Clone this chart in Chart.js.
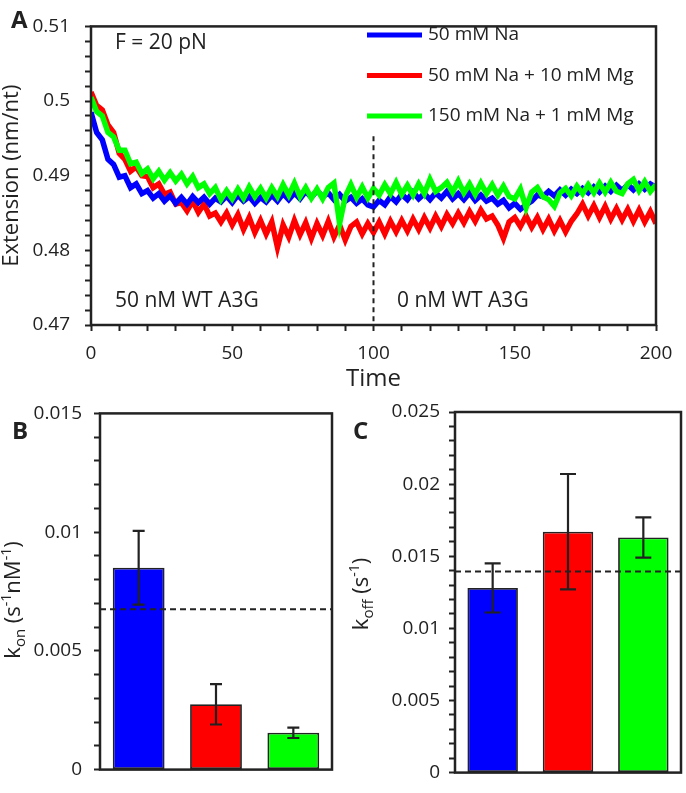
<!DOCTYPE html>
<html>
<head>
<meta charset="utf-8">
<script src="https://cdn.jsdelivr.net/npm/chart.js@4.4.1/dist/chart.umd.min.js"></script>
<style>
  body { margin: 0; background: #fff; }
  #wrap { position: relative; width: 686px; height: 793px; background: #fff; }
  canvas { position: absolute; }
</style>
</head>
<body>
<div id="wrap">
  <canvas id="chartA" width="686" height="400" style="left:0;top:0"></canvas>
  <canvas id="chartB" width="343" height="403" style="left:0;top:390px"></canvas>
  <canvas id="chartC" width="343" height="403" style="left:343px;top:390px"></canvas>
</div>
<script>
// ---- panel A: extension vs time (sampled every 2 s) ----
const time = Array.from({ length: 101 }, (_, i) => i * 2);

const naOnly = [
  0.4985, 0.4958, 0.4948, 0.4922, 0.4915, 0.4898, 0.4900, 0.4884, 0.4889, 0.4876,
  0.4880, 0.4870, 0.4876, 0.4866, 0.4873, 0.4863, 0.4871, 0.4862, 0.4872, 0.4864,
  0.4871, 0.4862, 0.4870, 0.4865, 0.4873, 0.4864, 0.4874, 0.4866, 0.4872, 0.4863,
  0.4871, 0.4865, 0.4874, 0.4866, 0.4876, 0.4868, 0.4877, 0.4869, 0.4879, 0.4871,
  0.4880, 0.4872, 0.4877, 0.4868, 0.4875, 0.4866, 0.4871, 0.4863, 0.4869, 0.4861,
  0.4858, 0.4867, 0.4861, 0.4872, 0.4865, 0.4875, 0.4868, 0.4878, 0.4869, 0.4876,
  0.4868, 0.4877, 0.4870, 0.4879, 0.4869, 0.4876, 0.4868, 0.4877, 0.4867, 0.4874,
  0.4866, 0.4870, 0.4862, 0.4867, 0.4857, 0.4863, 0.4855, 0.4861, 0.4866, 0.4874,
  0.4872, 0.4879, 0.4873, 0.4881, 0.4874, 0.4882, 0.4876, 0.4883, 0.4877, 0.4885,
  0.4878, 0.4886, 0.4879, 0.4887, 0.4880, 0.4888, 0.4881, 0.4889, 0.4882, 0.4889,
  0.4884
];
const naMg10 = [
  0.5012, 0.4994, 0.4988, 0.4968, 0.4958, 0.4930, 0.4922, 0.4906, 0.4912, 0.4900,
  0.4899, 0.4884, 0.4889, 0.4875, 0.4878, 0.4862, 0.4864, 0.4853, 0.4866, 0.4851,
  0.4862, 0.4846, 0.4850, 0.4838, 0.4850, 0.4834, 0.4848, 0.4828, 0.4844, 0.4824,
  0.4840, 0.4822, 0.4838, 0.4804, 0.4834, 0.4818, 0.4840, 0.4821, 0.4837, 0.4816,
  0.4836, 0.4820, 0.4839, 0.4818, 0.4834, 0.4814, 0.4832, 0.4838, 0.4822, 0.4836,
  0.4824, 0.4838, 0.4822, 0.4839, 0.4825, 0.4840, 0.4826, 0.4842, 0.4828, 0.4844,
  0.4830, 0.4846, 0.4832, 0.4848, 0.4836, 0.4850, 0.4837, 0.4852, 0.4839, 0.4854,
  0.4842, 0.4846, 0.4834, 0.4816, 0.4838, 0.4844, 0.4832, 0.4846, 0.4831, 0.4844,
  0.4828, 0.4842, 0.4826, 0.4840, 0.4825, 0.4839, 0.4849, 0.4862, 0.4846, 0.4860,
  0.4844, 0.4859, 0.4842, 0.4856, 0.4841, 0.4855, 0.4839, 0.4854, 0.4838, 0.4852,
  0.4836
];
const na150Mg1 = [
  0.5005, 0.4986, 0.4980, 0.4958, 0.4952, 0.4934, 0.4934, 0.4916, 0.4918, 0.4903,
  0.4909, 0.4896, 0.4906, 0.4894, 0.4904, 0.4893, 0.4902, 0.4889, 0.4899, 0.4884,
  0.4889, 0.4876, 0.4884, 0.4868, 0.4880, 0.4869, 0.4882, 0.4870, 0.4885, 0.4872,
  0.4883, 0.4870, 0.4884, 0.4872, 0.4888, 0.4874, 0.4890, 0.4872, 0.4884, 0.4870,
  0.4882, 0.4869, 0.4884, 0.4890, 0.4836, 0.4872, 0.4888, 0.4871, 0.4885, 0.4870,
  0.4883, 0.4874, 0.4888, 0.4876, 0.4891, 0.4875, 0.4887, 0.4874, 0.4889, 0.4876,
  0.4895, 0.4879, 0.4884, 0.4891, 0.4878, 0.4893, 0.4877, 0.4889, 0.4875, 0.4890,
  0.4876, 0.4888, 0.4874, 0.4886, 0.4872, 0.4869, 0.4882, 0.4857, 0.4878, 0.4884,
  0.4872, 0.4868, 0.4859, 0.4877, 0.4883, 0.4873, 0.4886, 0.4876, 0.4888, 0.4877,
  0.4890, 0.4878, 0.4891, 0.4879, 0.4876, 0.4889, 0.4895, 0.4880, 0.4892, 0.4879,
  0.4888
];
const seriesLabels = ['50 mM Na', '50 mM Na + 10 mM Mg', '150 mM Na + 1 mM Mg'];
const seriesColors = ['#0000ff', '#ff0000', '#00ff00'];
const switchTime = 100;      // A3G removed
const switchLineTop = 0.4953;

// ---- panels B and C: rates ----
const kon = [0.0085, 0.00275, 0.00155];
const konErr = [0.00155, 0.00085, 0.00022];
const konMean = 0.00675;
const koff = [0.0128, 0.0167, 0.0163];
const koffErr = [0.0017, 0.0040, 0.0014];
const koffMean = 0.01395;

const FONT = '"Open Sans", "DejaVu Sans", sans-serif';
const INK = '#222';

function drawBox(ctx, ca) {
  ctx.save();
  ctx.strokeStyle = INK;
  ctx.lineWidth = 2.5;
  ctx.strokeRect(ca.left, ca.top, ca.right - ca.left, ca.bottom - ca.top);
  ctx.restore();
}

function drawText(ctx, text, x, y, font) {
  ctx.save();
  ctx.fillStyle = INK;
  ctx.font = font;
  ctx.textBaseline = 'middle';
  ctx.textAlign = 'left';
  ctx.fillText(text, x, y);
  ctx.restore();
}

// rotated title with sub/superscripts
function drawRichTitle(ctx, parts, cx, cy) {
  ctx.save();
  ctx.translate(cx, cy);
  ctx.rotate(-Math.PI / 2);
  ctx.fillStyle = INK;
  ctx.textBaseline = 'alphabetic';
  let total = 0;
  parts.forEach(p => { ctx.font = p.size + 'px ' + FONT; total += ctx.measureText(p.text).width; });
  let x = -total / 2;
  parts.forEach(p => {
    ctx.font = p.size + 'px ' + FONT;
    ctx.fillText(p.text, x, 8 + p.dy);
    x += ctx.measureText(p.text).width;
  });
  ctx.restore();
}

const majorLabel = (step, digits) => v => {
  const r = Math.round(v / step) * step;
  return Math.abs(v - r) < 1e-9 ? String(parseFloat(r.toFixed(digits))) : '';
};

const tickGrid = { drawOnChartArea: false, tickLength: 6, tickWidth: 2, color: INK };

const panelA = {
  id: 'panelA',
  afterDatasetsDraw(chart) {
    const { ctx, chartArea: ca, scales: { x, y } } = chart;
    const px = x.getPixelForValue(switchTime);
    ctx.save();
    ctx.strokeStyle = INK;
    ctx.lineWidth = 2;
    ctx.setLineDash([5, 4]);
    ctx.beginPath();
    ctx.moveTo(px, y.getPixelForValue(switchLineTop));
    ctx.lineTo(px, ca.bottom);
    ctx.stroke();
    ctx.restore();
  },
  afterDraw(chart) {
    const { ctx, chartArea: ca } = chart;
    drawBox(ctx, ca);
    drawText(ctx, 'A', 11, 21, '700 24px ' + FONT);
    drawText(ctx, 'F = 20 pN', 115, 43, '21px ' + FONT);
    drawText(ctx, '50 nM WT A3G', 115, 301, '21px ' + FONT);
    drawText(ctx, '0 nM WT A3G', 397, 301, '21px ' + FONT);
    seriesLabels.forEach((lab, i) => {
      const ly = 35 + i * 40.5;
      ctx.save();
      ctx.strokeStyle = seriesColors[i];
      ctx.lineWidth = 5;
      ctx.beginPath();
      ctx.moveTo(367, ly);
      ctx.lineTo(422, ly);
      ctx.stroke();
      ctx.restore();
      drawText(ctx, lab, 428, ly, '19px ' + FONT);
    });
  }
};

new Chart(document.getElementById('chartA'), {
  type: 'line',
  data: {
    datasets: [naOnly, naMg10, na150Mg1].map((vals, i) => ({
      label: seriesLabels[i],
      data: vals.map((v, j) => ({ x: time[j], y: v })),
      borderColor: seriesColors[i],
      borderWidth: 5.5,
      pointRadius: 0,
      tension: 0,
      order: [1, 2, 0][i]
    }))
  },
  options: {
    responsive: false,
    animation: false,
    layout: { padding: { top: 12, right: 30, left: 0, bottom: 0 } },
    plugins: { legend: { display: false }, tooltip: { enabled: false } },
    scales: {
      x: {
        type: 'linear', min: 0, max: 200,
        afterFit: s => { s.height = 75; },
        grid: tickGrid,
        border: { display: false },
        ticks: { stepSize: 10, autoSkip: false, maxRotation: 0, padding: 11, color: INK,
                 font: { family: FONT, size: 19 }, callback: majorLabel(50, 0) },
        title: { display: true, text: 'Time', color: INK, font: { family: FONT, size: 24 }, padding: { bottom: 6 } }
      },
      y: {
        min: 0.47, max: 0.51,
        afterFit: s => { s.width = 91; },
        grid: tickGrid,
        border: { display: false },
        ticks: { stepSize: 0.002, autoSkip: false, padding: 15, color: INK,
                 font: { family: FONT, size: 19 }, callback: majorLabel(0.01, 2) },
        title: { display: true, text: 'Extension (nm/nt)', color: INK,
                 font: { family: FONT, size: 22, lineHeight: 1 }, padding: { top: 1 } }
      }
    }
  },
  plugins: [panelA]
});

function barPanel(cfg) {
  const plugin = {
    id: 'bars' + cfg.letter,
    afterDatasetsDraw(chart) {
      const { ctx, chartArea: ca, scales: { y } } = chart;
      const meta = chart.getDatasetMeta(0);
      ctx.save();
      ctx.strokeStyle = INK;
      ctx.lineWidth = 2.2;
      meta.data.forEach((bar, i) => {
        const hi = y.getPixelForValue(cfg.values[i] + cfg.errors[i]);
        const lo = y.getPixelForValue(cfg.values[i] - cfg.errors[i]);
        ctx.beginPath();
        ctx.moveTo(bar.x, hi); ctx.lineTo(bar.x, lo);
        ctx.moveTo(bar.x - cfg.cap / 2, hi); ctx.lineTo(bar.x + cfg.cap / 2, hi);
        ctx.moveTo(bar.x - cfg.cap / 2, lo); ctx.lineTo(bar.x + cfg.cap / 2, lo);
        ctx.stroke();
      });
      const my = y.getPixelForValue(cfg.mean);
      ctx.lineWidth = 2;
      ctx.setLineDash([6, 4]);
      ctx.beginPath();
      ctx.moveTo(ca.left, my); ctx.lineTo(ca.right, my);
      ctx.stroke();
      ctx.restore();
    },
    afterDraw(chart) {
      const { ctx, chartArea: ca } = chart;
      drawBox(ctx, ca);
      drawText(ctx, cfg.letter, cfg.letterX, 42, '700 24px ' + FONT);
      drawRichTitle(ctx, cfg.title, cfg.titleX, cfg.titleY);
    }
  };
  new Chart(document.getElementById(cfg.canvas), {
    type: 'bar',
    data: {
      labels: seriesLabels,
      datasets: [{
        data: cfg.values,
        backgroundColor: seriesColors,
        borderColor: INK,
        borderWidth: 1.8,
        borderSkipped: false,
        barPercentage: 1,
        categoryPercentage: 0.67
      }]
    },
    options: {
      responsive: false,
      animation: false,
      layout: { padding: cfg.padding },
      plugins: { legend: { display: false }, tooltip: { enabled: false } },
      scales: {
        x: { display: false },
        y: {
          min: 0, max: cfg.max,
          afterFit: s => { s.width = cfg.axisWidth; },
          grid: tickGrid,
          border: { display: false },
          ticks: { stepSize: 0.001, autoSkip: false, padding: cfg.tickPad, color: INK,
                   font: { family: FONT, size: 19 }, callback: majorLabel(0.005, 3) }
        }
      }
    },
    plugins: [plugin]
  });
}

barPanel({
  canvas: 'chartB', letter: 'B', letterX: 12, values: kon, errors: konErr, mean: konMean,
  max: 0.015, cap: 12, axisWidth: 100, tickPad: 12,
  padding: { top: 22, right: 11, bottom: 10, left: 0 },
  titleX: 12, titleY: 210,
  title: [
    { text: 'k', size: 22, dy: 0 }, { text: 'on', size: 15, dy: 5 },
    { text: ' (s', size: 22, dy: 0 }, { text: '-1', size: 14, dy: -9 },
    { text: 'nM', size: 22, dy: 0 }, { text: '-1', size: 14, dy: -9 },
    { text: ')', size: 22, dy: 0 }
  ]
});

barPanel({
  canvas: 'chartC', letter: 'C', letterX: 10, values: koff, errors: koffErr, mean: koffMean,
  max: 0.025, cap: 16, axisWidth: 112, tickPad: 9,
  padding: { top: 22, right: 5, bottom: 10, left: 0 },
  titleX: 17, titleY: 204,
  title: [
    { text: 'k', size: 22, dy: 0 }, { text: 'off', size: 15, dy: 5 },
    { text: ' (s', size: 22, dy: 0 }, { text: '-1', size: 14, dy: -9 },
    { text: ')', size: 22, dy: 0 }
  ]
});
</script>
</body>
</html>
